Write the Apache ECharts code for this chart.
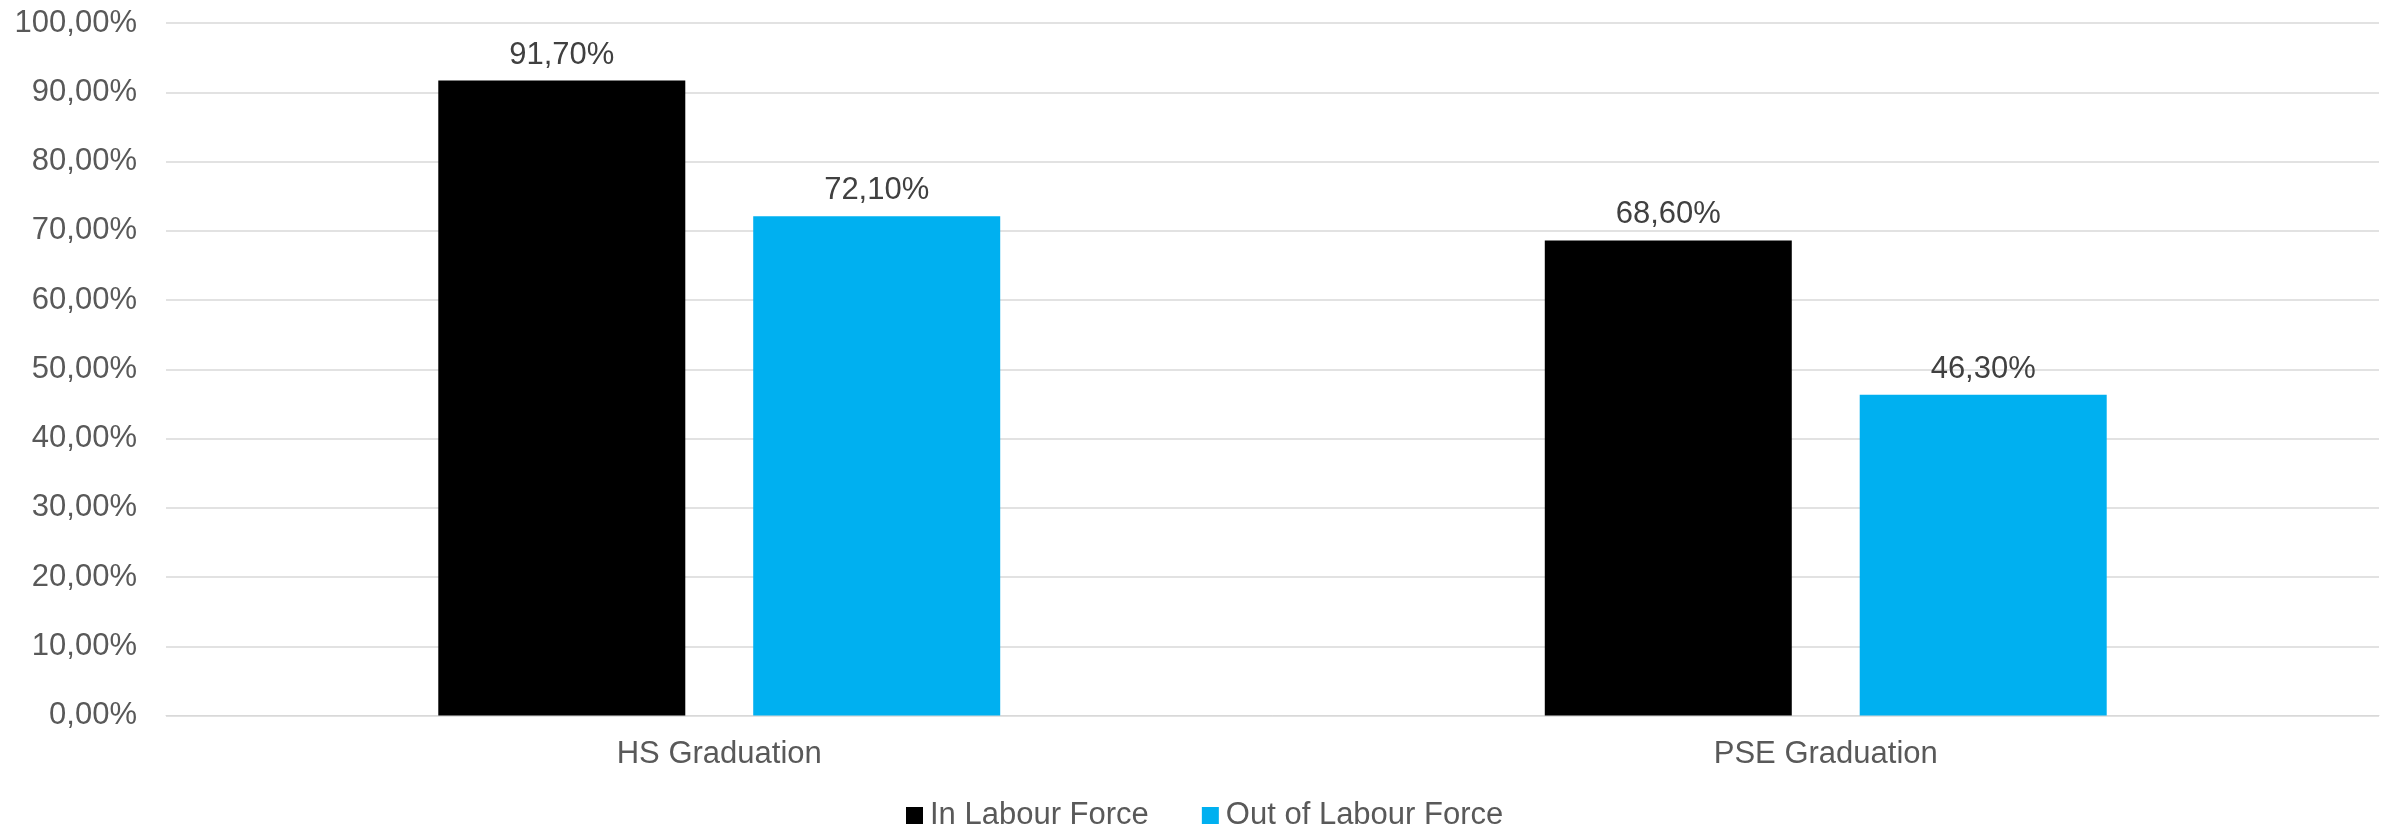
<!DOCTYPE html>
<html>
<head>
<meta charset="utf-8">
<style>
  html, body { margin: 0; padding: 0; background: #ffffff; }
  #chart { width: 2397px; height: 829px; }
</style>
<script src="https://cdn.jsdelivr.net/npm/echarts@6/dist/echarts.min.js"></script>
</head>
<body>
<div id="chart"></div>
<script>
// Graduation rates by labour force status
const categories = ['HS Graduation', 'PSE Graduation'];
const inLabourForce = [91.7, 68.6];
const outOfLabourForce = [72.1, 46.3];
const seriesNames = ['In Labour Force', 'Out of Labour Force'];

const FONT = '"Liberation Sans", Arial, sans-serif';
const fmtPct = v => v.toFixed(2).replace('.', ',') + '%';

const chart = echarts.init(document.getElementById('chart'), null, { renderer: 'canvas' });

const labelStyle = {
  show: true,
  position: 'top',
  distance: 10,
  color: '#404040',
  fontFamily: FONT,
  fontSize: 31,
  formatter: p => fmtPct(p.value)
};

chart.setOption({
  animation: false,
  backgroundColor: '#ffffff',
  textStyle: { fontFamily: FONT },
  grid: { left: 166, right: 18, top: 23, bottom: 113.5, containLabel: false },
  legend: {
    data: seriesNames,
    left: 901,
    top: 795,
    itemWidth: 17,
    itemHeight: 17,
    itemGap: 53,
    icon: 'rect',
    textStyle: { color: '#595959', fontSize: 31, fontFamily: FONT, padding: [0, 0, 0, 2] }
  },
  xAxis: {
    type: 'category',
    data: categories,
    axisLine: { show: true, lineStyle: { color: '#d9d9d9', width: 1 } },
    axisTick: { show: false },
    axisLabel: { color: '#595959', fontSize: 31, fontFamily: FONT, margin: 23 }
  },
  yAxis: {
    type: 'value',
    min: 0,
    max: 100,
    interval: 10,
    axisLine: { show: false },
    axisTick: { show: false },
    splitLine: { lineStyle: { color: '#d9d9d9', width: 1.5 } },
    axisLabel: { color: '#595959', fontSize: 31, fontFamily: FONT, margin: 29, formatter: fmtPct }
  },
  series: [
    {
      name: seriesNames[0],
      type: 'bar',
      data: inLabourForce,
      barWidth: 247,
      barGap: '27.5%',
      itemStyle: { color: '#000000' },
      label: labelStyle
    },
    {
      name: seriesNames[1],
      type: 'bar',
      data: outOfLabourForce,
      barWidth: 247,
      barGap: '27.5%',
      itemStyle: { color: '#00B0F0' },
      label: labelStyle
    }
  ]
});
</script>
</body>
</html>
